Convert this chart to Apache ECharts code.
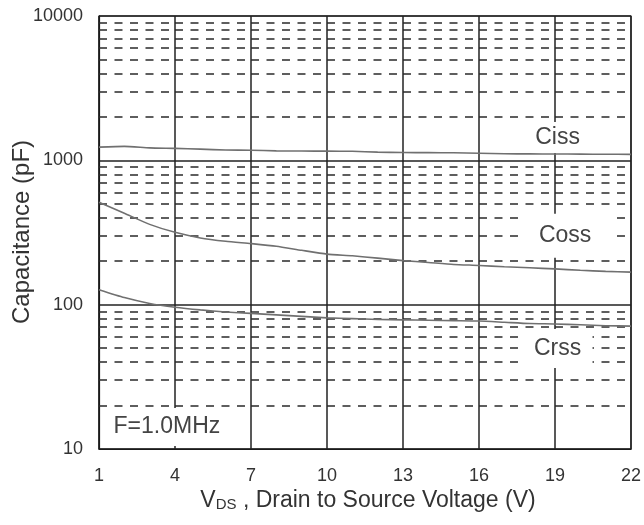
<!DOCTYPE html>
<html>
<head>
<meta charset="utf-8">
<script src="https://cdn.jsdelivr.net/npm/echarts@6/dist/echarts.min.js"></script>
<style>html,body{margin:0;padding:0;background:#fff;}#c{width:644px;height:525px;}</style>
</head>
<body>
<div id="c"></div>
<script>
var vds  = [1,2,3,4,5,6,7,8,9,10,11,12,13,14,15,16,17,18,19,20,21,22];
var ciss = [1235,1250,1220,1210,1195,1178,1175,1162,1160,1158,1155,1140,1132,1130,1128,1120,1110,1108,1106,1104,1102,1100];
var coss = [512,430,360,317,290,275,265,254,238,224,218,210,202,196,190,187,183,180,177,173,170,168];
var crss = [127,112,102,96,92,89,87,85,83,81,80,79,78.5,78,77.5,77,75.5,74,73.5,72.5,71.5,71];
var xTicks = [1,4,7,10,13,16,19,22];
var yTicks = [10,100,1000,10000];
var minorGrid = [20,30,40,50,60,70,80,90,200,300,400,500,600,700,800,900,2000,3000,4000,5000,6000,7000,8000,9000];
var annotations = [
  {name:'Ciss', x:19.1, y:1440, w:60, h:31},
  {name:'Coss', x:19.4, y:300, w:90, h:44},
  {name:'Crss', x:19.1, y:49.6, w:70, h:39},
  {name:'F=1.0MHz', x:3.68, y:14.2, w:128, h:38}
];
var seriesNames = ['Ciss','Coss','Crss'];
var seriesData = [ciss, coss, crss];

function pairs(ys){ return vds.map(function(v,i){ return [v, ys[i]]; }); }

var minorSegments = [];
minorGrid.forEach(function(v){
  for (var k = 0; k < xTicks.length - 1; k++) {
    minorSegments.push([{coord:[xTicks[k], v]}, {coord:[xTicks[k+1], v]}]);
  }
});

var chart = echarts.init(document.getElementById('c'), null, {renderer:'canvas'});
var series = [];
series.push({
  type:'line', name:'minor', data:[], z:1, silent:true,
  markLine:{
    silent:true, symbol:['none','none'], label:{show:false},
    lineStyle:{color:'#2a2a2a', width:1.6, type:[8,7.5]},
    animation:false,
    data: minorSegments
  }
});
series.push({
  type:'line', name:'notes', data:[], z:4, silent:true,
  markPoint:{
    animation:false,
    data: annotations.map(function(a){
      return {
        coord:[a.x, a.y], symbol:'rect', symbolSize:[a.w, a.h],
        itemStyle:{color:'#ffffff'},
        label:{show:true, position:'inside', formatter:a.name, color:'#444', fontSize:23, fontFamily:'Liberation Sans, Arial, sans-serif'}
      };
    })
  }
});
seriesData.forEach(function(d, i){
  series.push({
    type:'line', name:seriesNames[i], data:pairs(d), showSymbol:false, symbol:'none', z:10,
    smooth:0.2,
    lineStyle:{color:'#707070', width:1.6}
  });
});

chart.setOption({
  animation:false,
  backgroundColor:'#fff',
  grid:{left:99, right:13, top:16, bottom:76, show:true, borderColor:'#1a1a1a', borderWidth:1.2},
  xAxis:{
    type:'value', min:1, max:22, interval:3,
    axisLine:{show:true, lineStyle:{color:'#1a1a1a', width:1.2}},
    axisTick:{show:false},
    axisLabel:{color:'#333', fontSize:18, margin:18, fontFamily:'Liberation Sans, Arial, sans-serif',
      formatter:function(v){ return xTicks.indexOf(v) >= 0 ? String(v) : ''; }},
    splitLine:{show:true, lineStyle:{color:'#222', width:1.5}}
  },
  yAxis:{
    type:'log', logBase:10, min:10, max:10000,
    axisLine:{show:true, lineStyle:{color:'#1a1a1a', width:1.2}},
    axisTick:{show:false},
    axisLabel:{color:'#333', fontSize:18, margin:16, fontFamily:'Liberation Sans, Arial, sans-serif',
      formatter:function(v){ return yTicks.indexOf(Math.round(v)) >= 0 ? String(Math.round(v)) : ''; }},
    splitLine:{show:true, lineStyle:{color:'#222', width:1.5}},
    minorTick:{show:false}, minorSplitLine:{show:false}
  },
  graphic:[
    {type:'text', position:[22, 232], rotation:Math.PI/2,
      style:{text:'Capacitance (pF)', fill:'#333', font:'24px "Liberation Sans", Arial, sans-serif', textAlign:'center', textVerticalAlign:'middle'}},
    {type:'text', position:[368, 499],
      style:{
        text:'{v|V}{s|DS}{n| , Drain to Source Voltage (V)}',
        textAlign:'center', textVerticalAlign:'middle',
        rich:{
          v:{fontSize:23, fontFamily:'Liberation Sans, Arial, sans-serif', fill:'#333', lineHeight:26, verticalAlign:'bottom'},
          s:{fontSize:15, fontFamily:'Liberation Sans, Arial, sans-serif', fill:'#333', lineHeight:26, verticalAlign:'bottom'},
          n:{fontSize:23, fontFamily:'Liberation Sans, Arial, sans-serif', fill:'#333', lineHeight:26, verticalAlign:'bottom'}
        }
      }}
  ],
  series: series
});
</script>
</body>
</html>
